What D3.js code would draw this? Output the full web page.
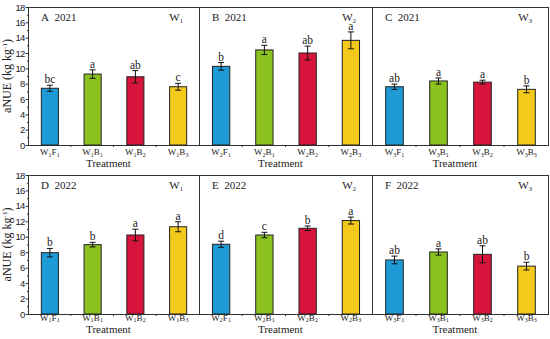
<!DOCTYPE html>
<html>
<head>
    <meta charset="UTF-8">
    <title>aNUE</title>
    <style>
        body { margin: 0; background: #fff; }
        svg { font-family: "Liberation Serif", "Times New Roman", serif; }
        .bar { stroke: #222; stroke-width: 1px; }
        .err line { stroke: #111; stroke-width: 1px; }
        .frame { fill: none; stroke: #333; stroke-width: 1px; }
        .axis path, .axis line { stroke: #333; }
    </style>
</head>
<body>
    <div class="chart"></div>
    <script src="https://cdn.jsdelivr.net/npm/d3@7"></script>
    <script>
        // treatments (letter + subscript)
        const treatLetter = ['F', 'B', 'B', 'B'];
        const treatSub = ['1', '1', '2', '3'];
        const colors = ['#1e9bd6', '#8cc220', '#d7143b', '#f3c91b'];

        // panels
        const panelIds = ['A', 'B', 'C', 'D', 'E', 'F'];
        const years = ['2021', '2021', '2021', '2022', '2022', '2022'];
        const water = ['1', '2', '3', '1', '2', '3'];

        // aNUE means and standard errors
        const means = [
            [7.4, 9.25, 8.9, 7.6],
            [10.26, 12.4, 12.0, 13.65],
            [7.6, 8.35, 8.2, 7.26],
            [7.94, 8.98, 10.23, 11.3],
            [9.03, 10.23, 11.1, 12.1],
            [7.0, 8.03, 7.73, 6.2]
        ];
        const errors = [
            [0.4, 0.55, 0.8, 0.45],
            [0.5, 0.6, 0.9, 1.1],
            [0.35, 0.4, 0.25, 0.45],
            [0.55, 0.3, 0.75, 0.65],
            [0.4, 0.35, 0.3, 0.45],
            [0.5, 0.4, 1.1, 0.5]
        ];
        const letters = [
            ['bc', 'a', 'ab', 'c'],
            ['b', 'a', 'ab', 'a'],
            ['ab', 'a', 'a', 'b'],
            ['b', 'b', 'a', 'a'],
            ['d', 'c', 'b', 'a'],
            ['ab', 'a', 'ab', 'b']
        ];

        const yTicks = [0, 2, 4, 6, 8, 10, 12, 14, 16, 18];
        const yMinor = [1, 3, 5, 7, 9, 11, 13, 15, 17];

        const W = 550, H = 339;
        const colEdges = [28, 199, 372, 548];
        const rows = [
            { top: 7, bottom: 145, tickY: 10, titleY: 22 },
            { top: 175, bottom: 314, tickY: 6.5, titleY: 18.5 }
        ];

        const svg = d3.select('.chart')
            .append('svg')
            .attr('width', W)
            .attr('height', H);

        rows.forEach((row, r) => {
            const y = d3.scaleLinear().domain([0, 18]).range([row.bottom, row.top]);

            // y axis
            svg.append('g')
                .attr('class', 'axis')
                .attr('transform', `translate(${ colEdges[0] + 0.5 },0)`)
                .call(d3.axisLeft(y).tickValues(yTicks).tickSize(3).tickPadding(1).tickFormat(d => d))
                .call(g => g.selectAll('text').attr('font-size', 9.5).attr('fill', '#222')
                    .attr('font-family', null).attr('letter-spacing', -0.8))
                .call(g => g.select('.domain').remove());

            svg.append('g')
                .attr('class', 'axis')
                .attr('transform', `translate(${ colEdges[0] + 0.5 },0)`)
                .call(d3.axisLeft(y).tickValues(yMinor).tickSize(1.5).tickFormat(''))
                .call(g => g.select('.domain').remove());

            // frame
            svg.append('rect')
                .attr('class', 'frame')
                .attr('x', colEdges[0] + 0.5)
                .attr('y', row.top + 0.5)
                .attr('width', colEdges[3] - colEdges[0])
                .attr('height', row.bottom - row.top);

            svg.append('text')
                .attr('transform', `translate(10.5,${ (row.top + row.bottom) / 2 }) rotate(-90)`)
                .attr('text-anchor', 'middle')
                .attr('font-size', 12)
                .attr('fill', '#222')
                .call(t => {
                    t.append('tspan').text('aNUE (kg kg');
                    t.append('tspan').attr('font-size', 7).attr('dy', -4).text('-1');
                    t.append('tspan').attr('dy', 4).text(')');
                });

            for (let c = 0; c < 3; c++) {
                const p = r * 3 + c;
                const x0 = colEdges[c], x1 = colEdges[c + 1];

                const x = d3.scaleBand()
                    .domain(d3.range(4))
                    .range([x0, x1])
                    .paddingInner(0.6)
                    .paddingOuter(0.3);

                const g = svg.append('g');

                // separator
                if (c > 0) {
                    g.append('line')
                        .attr('x1', x0 + 0.5).attr('x2', x0 + 0.5)
                        .attr('y1', row.top).attr('y2', row.bottom)
                        .attr('stroke', '#333');
                }

                // small ticks between categories
                g.selectAll('.btick')
                    .data([1, 2, 3])
                    .enter()
                    .append('line')
                    .attr('x1', i => x0 + (x1 - x0) * i / 4)
                    .attr('x2', i => x0 + (x1 - x0) * i / 4)
                    .attr('y1', row.bottom)
                    .attr('y2', row.bottom + 2)
                    .attr('stroke', '#333');

                g.selectAll('.bar')
                    .data(means[p])
                    .enter()
                    .append('rect')
                    .attr('class', 'bar')
                    .attr('x', (d, i) => x(i) + 0.5)
                    .attr('y', d => y(d))
                    .attr('width', x.bandwidth())
                    .attr('height', d => y(0) - y(d))
                    .attr('fill', (d, i) => colors[i]);

                const err = g.selectAll('.err')
                    .data(means[p])
                    .enter()
                    .append('g')
                    .attr('class', 'err');

                const cx = i => x(i) + x.bandwidth() / 2 + 0.5;
                err.append('line')
                    .attr('x1', (d, i) => cx(i)).attr('x2', (d, i) => cx(i))
                    .attr('y1', (d, i) => y(d - errors[p][i]))
                    .attr('y2', (d, i) => y(d + errors[p][i]));
                err.append('line')
                    .attr('x1', (d, i) => cx(i) - 3).attr('x2', (d, i) => cx(i) + 3)
                    .attr('y1', (d, i) => y(d - errors[p][i]))
                    .attr('y2', (d, i) => y(d - errors[p][i]));
                err.append('line')
                    .attr('x1', (d, i) => cx(i) - 3).attr('x2', (d, i) => cx(i) + 3)
                    .attr('y1', (d, i) => y(d + errors[p][i]))
                    .attr('y2', (d, i) => y(d + errors[p][i]));

                g.selectAll('.sig')
                    .data(means[p])
                    .enter()
                    .append('text')
                    .attr('x', (d, i) => cx(i))
                    .attr('y', (d, i) => y(d + errors[p][i]) - 2)
                    .attr('text-anchor', 'middle')
                    .attr('font-size', 11.5)
                    .attr('fill', '#222')
                    .text((d, i) => letters[p][i]);

                // x tick labels
                g.selectAll('.xlab')
                    .data(treatLetter)
                    .enter()
                    .append('text')
                    .attr('x', (d, i) => cx(i))
                    .attr('y', row.bottom + row.tickY)
                    .attr('text-anchor', 'middle')
                    .attr('font-size', 9)
                    .attr('fill', '#222')
                    .each(function (d, i) {
                        const t = d3.select(this);
                        t.append('tspan').text('W');
                        t.append('tspan').attr('font-size', 6).attr('dy', 1.5).text(water[p]);
                        t.append('tspan').attr('dy', -1.5).text(d);
                        t.append('tspan').attr('font-size', 6).attr('dy', 1.5).text(treatSub[i]);
                    });

                g.append('text')
                    .attr('x', (x0 + x1) / 2 - 5)
                    .attr('y', row.bottom + row.titleY)
                    .attr('text-anchor', 'middle')
                    .attr('font-size', 11)
                    .attr('fill', '#222')
                    .text('Treatment');

                // panel labels
                g.append('text')
                    .attr('x', x0 + 13)
                    .attr('y', row.top + 14)
                    .attr('font-size', 11)
                    .attr('fill', '#222')
                    .text(panelIds[p] + '\u00a0\u00a0' + years[p]);

                g.append('text')
                    .attr('x', x1 - 16)
                    .attr('y', row.top + 14)
                    .attr('text-anchor', 'end')
                    .attr('font-size', 11)
                    .attr('fill', '#222')
                    .call(t => {
                        t.append('tspan').text('W');
                        t.append('tspan').attr('font-size', 6.5).attr('dy', 1.5).text(water[p]);
                    });
            }
        });
    </script>
</body>
</html>
